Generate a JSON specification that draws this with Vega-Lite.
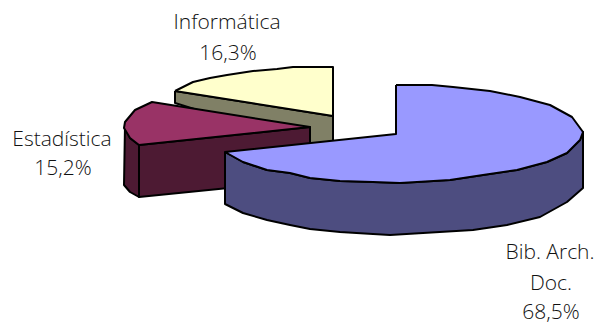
{"$schema":"https://vega.github.io/schema/vega-lite/v6.json","width":598,"height":325,"padding":0,"autosize":{"type":"none"},"background":"white","config":{"view":{"stroke":null}},
"datasets":{"shapes":[
{"s":"a_olive","i":1,"x":175,"y":91},{"s":"a_olive","i":2,"x":333,"y":116},{"s":"a_olive","i":3,"x":333,"y":141},{"s":"a_olive","i":4,"x":310,"y":145},{"s":"a_olive","i":5,"x":175,"y":103},{"s":"a_olive","i":6,"x":175,"y":91},
{"s":"b_yellow","i":1,"x":175,"y":91},{"s":"b_yellow","i":2,"x":193,"y":82},{"s":"b_yellow","i":3,"x":210,"y":78},{"s":"b_yellow","i":4,"x":227,"y":75},{"s":"b_yellow","i":5,"x":253,"y":71},{"s":"b_yellow","i":6,"x":277,"y":69},{"s":"b_yellow","i":7,"x":293,"y":67},{"s":"b_yellow","i":8,"x":333,"y":67},{"s":"b_yellow","i":9,"x":333,"y":116},{"s":"b_yellow","i":10,"x":175,"y":91},
{"s":"c_mside","i":1,"x":125,"y":125},{"s":"c_mside","i":2,"x":130,"y":138},{"s":"c_mside","i":3,"x":139,"y":145},{"s":"c_mside","i":4,"x":139,"y":197},{"s":"c_mside","i":5,"x":130,"y":192},{"s":"c_mside","i":6,"x":124,"y":185},{"s":"c_mside","i":7,"x":125,"y":125},
{"s":"d_mfront","i":1,"x":139,"y":145},{"s":"d_mfront","i":2,"x":310,"y":127},{"s":"d_mfront","i":3,"x":310,"y":180},{"s":"d_mfront","i":4,"x":139,"y":197},{"s":"d_mfront","i":5,"x":139,"y":145},
{"s":"e_maroon","i":1,"x":139,"y":145},{"s":"e_maroon","i":2,"x":130,"y":138},{"s":"e_maroon","i":3,"x":124,"y":128},{"s":"e_maroon","i":4,"x":125,"y":122},{"s":"e_maroon","i":5,"x":135,"y":110},{"s":"e_maroon","i":6,"x":152,"y":102},{"s":"e_maroon","i":7,"x":310,"y":127},{"s":"e_maroon","i":8,"x":139,"y":145},
{"s":"f_bside","i":1,"x":225,"y":152},{"s":"f_bside","i":2,"x":243,"y":162},{"s":"f_bside","i":3,"x":267,"y":170},{"s":"f_bside","i":4,"x":290,"y":173},{"s":"f_bside","i":5,"x":310,"y":178},{"s":"f_bside","i":6,"x":340,"y":181},{"s":"f_bside","i":7,"x":373,"y":182},{"s":"f_bside","i":8,"x":400,"y":183},{"s":"f_bside","i":9,"x":417,"y":182},{"s":"f_bside","i":10,"x":450,"y":180},{"s":"f_bside","i":11,"x":483,"y":175},{"s":"f_bside","i":12,"x":517,"y":170},{"s":"f_bside","i":13,"x":547,"y":162},{"s":"f_bside","i":14,"x":567,"y":153},{"s":"f_bside","i":15,"x":580,"y":140},{"s":"f_bside","i":16,"x":583,"y":132},{"s":"f_bside","i":17,"x":583,"y":188},{"s":"f_bside","i":18,"x":567,"y":202},{"s":"f_bside","i":19,"x":540,"y":217},{"s":"f_bside","i":20,"x":507,"y":225},{"s":"f_bside","i":21,"x":473,"y":230},{"s":"f_bside","i":22,"x":423,"y":233},{"s":"f_bside","i":23,"x":390,"y":235},{"s":"f_bside","i":24,"x":373,"y":234},{"s":"f_bside","i":25,"x":340,"y":232},{"s":"f_bside","i":26,"x":310,"y":229},{"s":"f_bside","i":27,"x":290,"y":225},{"s":"f_bside","i":28,"x":267,"y":220},{"s":"f_bside","i":29,"x":243,"y":213},{"s":"f_bside","i":30,"x":225,"y":204},{"s":"f_bside","i":31,"x":225,"y":152},
{"s":"g_blue","i":1,"x":396,"y":85},{"s":"g_blue","i":2,"x":396,"y":134},{"s":"g_blue","i":3,"x":225,"y":152},{"s":"g_blue","i":4,"x":243,"y":162},{"s":"g_blue","i":5,"x":267,"y":170},{"s":"g_blue","i":6,"x":290,"y":173},{"s":"g_blue","i":7,"x":310,"y":178},{"s":"g_blue","i":8,"x":340,"y":181},{"s":"g_blue","i":9,"x":373,"y":182},{"s":"g_blue","i":10,"x":400,"y":183},{"s":"g_blue","i":11,"x":417,"y":182},{"s":"g_blue","i":12,"x":450,"y":180},{"s":"g_blue","i":13,"x":483,"y":175},{"s":"g_blue","i":14,"x":517,"y":170},{"s":"g_blue","i":15,"x":547,"y":162},{"s":"g_blue","i":16,"x":567,"y":153},{"s":"g_blue","i":17,"x":580,"y":140},{"s":"g_blue","i":18,"x":583,"y":132},{"s":"g_blue","i":19,"x":572,"y":117},{"s":"g_blue","i":20,"x":550,"y":105},{"s":"g_blue","i":21,"x":520,"y":97},{"s":"g_blue","i":22,"x":490,"y":91},{"s":"g_blue","i":23,"x":453,"y":87},{"s":"g_blue","i":24,"x":432,"y":85},{"s":"g_blue","i":25,"x":396,"y":85}
],
"labels":[
{"t":"Informática","x":227,"y":23},{"t":"16,3%","x":228,"y":54},
{"t":"Estadística","x":62,"y":140},{"t":"15,2%","x":63,"y":169},
{"t":"Bib. Arch.","x":550,"y":253},{"t":"Doc.","x":551,"y":284},{"t":"68,5%","x":551,"y":313}
]},
"layer":[
{"data":{"name":"shapes"},"mark":{"type":"line","stroke":"black","strokeWidth":2,"strokeJoin":"round","clip":true},
"encoding":{"x":{"field":"x","type":"quantitative","scale":{"domain":[0,598],"nice":false,"zero":false},"axis":null},
"y":{"field":"y","type":"quantitative","scale":{"domain":[325,0],"nice":false,"zero":false},"axis":null},
"order":{"field":"i","type":"quantitative"},
"fill":{"field":"s","type":"nominal","legend":null,"scale":{"domain":["a_olive","b_yellow","c_mside","d_mfront","e_maroon","f_bside","g_blue"],"range":["#808066","#FFFFCC","#4D1A33","#4D1A33","#993366","#4D4D80","#9999FF"]}},
"detail":{"field":"s"}}},
{"data":{"name":"labels"},"mark":{"type":"text","font":"Open Sans","fontSize":21,"fontWeight":300,"color":"#111111","align":"center","baseline":"middle"},
"encoding":{"x":{"field":"x","type":"quantitative","scale":{"domain":[0,598],"nice":false,"zero":false},"axis":null},
"y":{"field":"y","type":"quantitative","scale":{"domain":[325,0],"nice":false,"zero":false},"axis":null},
"text":{"field":"t"}}}
]}
